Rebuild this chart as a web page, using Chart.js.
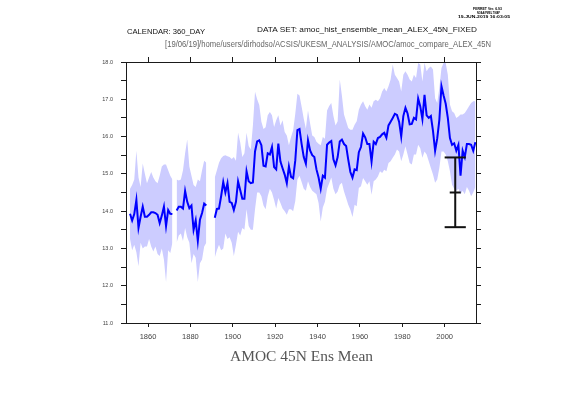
<!DOCTYPE html>
<html>
<head>
<meta charset="utf-8">
<script src="https://cdn.jsdelivr.net/npm/chart.js@4.4.1/dist/chart.umd.min.js"></script>
<style>
  html, body { margin: 0; padding: 0; background: #fff; }
  #wrap { position: relative; width: 561px; height: 397px; overflow: hidden; }
  #chart { position: absolute; left: 0; top: 0; }
  .lbl { position: absolute; white-space: nowrap; transform-origin: 0 50%; }
</style>
</head>
<body>
<div id="wrap">
  <canvas id="chart" width="561" height="397"></canvas>
</div>
<script>
// annual values, one per year from firstYear to lastYear (null = missing year)
const firstYear = 1851;
const lastYear = 2014;

const ensMean = [
  13.93, 13.75, 13.92, 14.30, 13.55, 13.85, 14.12, 13.85, 13.85, 13.90,
  13.97, 13.97, 13.95, 13.90, 13.68, 13.88, 14.12, 13.60, 14.03, 13.93, 13.92,
  null,
  14.02, 14.12, 14.12, 14.07, 14.54, 14.25, 14.08, 14.15, 13.50, 13.75,
  13.20, 13.77, 13.95, 14.20, 14.15,
  null, null, null,
  13.82, 14.06, 14.07, 14.40, 14.78, 14.50, 14.75, 14.25, 14.22, 14.03,
  14.25, 14.80, 14.57, 14.33, 14.33, 15.07, 14.80, 14.75, 14.77, 15.60,
  15.87, 15.90, 15.77, 15.22, 15.20, 15.55, 15.52, 15.72, 15.18, 15.12,
  15.81, 15.33, 15.15, 14.98, 14.75, 15.20, 14.92, 14.88, 15.36, 16.17,
  16.20, 15.80, 15.45, 15.27, 15.90, 15.63, 15.50, 15.45, 15.12, 14.90,
  14.60, 14.95, 14.90, 15.78, 15.84, 15.88, 15.39, 15.23, 15.45, 15.87,
  15.92, 15.80, 15.75, 15.38, 15.05, 14.90, 15.12, 15.10, 15.58, 15.72,
  16.08, 15.98, 15.80, 15.80, 15.33, 15.86, 15.80, 15.96, 15.99, 16.06,
  16.10, 15.97, 16.30, 16.40, 16.50, 16.61, 16.58, 16.40, 16.00, 16.55,
  16.77, 16.62, 16.33, 16.34, 16.50, 16.46, 17.02, 16.81, 16.47, 17.12,
  16.57, 16.50, 16.55, 16.15, 15.62, 15.95, 16.45, 17.35, 17.10, 16.88,
  16.50, 15.96, 15.78, 15.82, 15.62, 15.78, 14.95, 15.62, 15.45, 15.80,
  15.80, 15.78, 15.62, 15.85
];

const ensMax = [
  14.60, 14.70, 14.85, 15.62, 14.90, 14.65, 15.28, 15.00, 14.75, 14.90,
  15.05, 14.90, 14.80, 14.75, 14.95, 15.20, 15.25, 15.25, 15.10, 14.95, 14.85,
  null,
  14.85, 14.82, 14.85, 15.10, 15.55, 15.92, 15.20, 14.95, 14.70, 14.65,
  14.85, 14.80, 15.10, 15.35, 15.30,
  null, null, null,
  14.90, 15.10, 15.30, 15.42, 15.48, 15.50, 15.47, 15.45, 15.40, 15.45,
  15.35, 16.10, 15.85, 15.45, 15.55, 16.10, 15.75, 15.65, 16.30, 17.20,
  17.00, 16.85, 16.40, 16.20, 16.25, 16.57, 16.66, 16.57, 16.26, 16.44,
  16.57, 16.30, 16.44, 16.12, 16.03, 15.77, 15.99, 16.17, 16.61, 17.15,
  17.10, 16.80, 16.48, 16.21, 16.70, 16.35, 16.03, 15.99, 15.86, 15.81,
  15.77, 15.99, 15.94, 16.70, 16.82, 16.90, 16.55, 16.30, 16.41, 17.53,
  17.10, 16.59, 16.41, 16.23, 16.18, 16.18, 16.32, 16.41, 16.72, 16.86,
  16.95, 16.81, 16.72, 16.86, 16.77, 16.95, 16.99, 16.95, 17.03, 17.21,
  17.30, 17.21, 17.35, 17.53, 17.93, 17.66, 17.57, 17.48, 17.21, 17.66,
  17.75, 17.66, 17.53, 17.48, 17.66, 17.57, 17.97, 17.93, 17.48, 17.98,
  17.75, 17.84, 17.88, 17.80, 17.03, 16.90, 17.30, 17.84, 17.97, 17.97,
  17.66, 16.86, 16.68, 16.63, 16.50, 16.54, 16.59, 16.59, 16.63, 16.72,
  16.81, 16.90, 16.95, 16.95
];

const ensMin = [
  13.25, 12.95, 13.10, 12.90, 12.52, 13.15, 13.00, 13.05, 13.05, 13.25,
  13.05, 12.92, 13.05, 12.85, 12.80, 13.00, 12.70, 12.10, 12.95, 12.88, 13.15,
  null,
  13.15, 13.35, 13.40, 13.20, 13.55, 13.30, 13.15, 12.60, 12.85, 12.75,
  12.10, 12.60, 12.70, 13.05, 13.15,
  null, null, null,
  12.75, 12.95, 13.10, 12.95, 13.00, 13.40, 13.25, 13.30, 13.15, 12.80,
  13.10, 13.45, 13.35, 13.55, 13.50, 14.05, 13.60, 13.50, 13.50, 14.05,
  14.50, 14.50, 14.40, 14.15, 14.05, 14.40, 14.60, 14.50, 14.30, 14.07,
  14.35, 14.22, 14.07, 14.00, 13.90, 14.05, 14.05, 14.00, 14.27, 14.85,
  14.95, 14.78, 14.60, 14.55, 14.80, 14.65, 14.55, 14.50, 14.45, 14.22,
  13.72, 14.10, 14.25, 14.60, 14.75, 14.90, 14.60, 14.45, 14.53, 14.71,
  14.76, 14.53, 14.35, 14.17, 14.04, 13.84, 14.17, 14.13, 14.62, 14.67,
  14.89, 14.80, 14.71, 14.80, 14.44, 14.80, 14.85, 14.93, 15.07, 15.02,
  15.11, 15.07, 15.29, 15.34, 15.43, 15.52, 15.65, 15.60, 15.34, 15.52,
  15.74, 15.52, 15.29, 15.25, 15.52, 15.52, 15.78, 15.69, 15.43, 15.60,
  15.52, 15.34, 15.16, 14.98, 14.76, 14.85, 15.16, 15.60, 15.60, 15.52,
  15.34, 15.07, 14.71, 14.60, 14.55, 14.60, 14.45, 14.55, 14.45, 14.65,
  14.55, 14.40, 14.50, 14.65
];

// error bar drawn near the end of the record
const errYear = 2005;
const errLow = 13.57;
const errMid = 14.50;
const errHigh = 15.44;

const xTicks = [1860, 1880, 1900, 1920, 1940, 1960, 1980, 2000];
const yTicks = [11, 11.5, 12, 12.5, 13, 13.5, 14, 14.5, 15, 15.5, 16, 16.5, 17, 17.5, 18];

const years = [];
for (let y = firstYear; y <= lastYear; y++) years.push(y);

// annual means sit in the middle of their year
function toPoints(values) {
  return years.map((yr, i) => ({ x: yr + 0.5, y: values[i] }));
}

const frameColor = '#1a1a1a';
const tickFont = { family: 'Liberation Sans', size: 7.5 };

function errSeg(x0, y0, x1, y1) {
  return {
    data: [{ x: x0, y: y0 }, { x: x1, y: y1 }],
    borderColor: '#111',
    borderWidth: 2,
    pointRadius: 0,
    fill: false
  };
}

const ctx = document.getElementById('chart').getContext('2d');
const chart = new Chart(ctx, {
  type: 'line',
  data: {
    datasets: [
      errSeg(errYear, errLow, errYear, errHigh),
      errSeg(errYear - 5, errHigh, errYear + 5, errHigh),
      errSeg(errYear - 5, errLow, errYear + 5, errLow),
      errSeg(errYear - 2.6, errMid, errYear + 2.6, errMid),
      {
        label: 'Ens Mean',
        data: toPoints(ensMean),
        borderColor: '#0000ff',
        borderWidth: 2,
        pointRadius: 0,
        fill: false,
        spanGaps: false
      },
      {
        label: 'max',
        data: toPoints(ensMax),
        borderWidth: 0,
        borderColor: 'rgba(0,0,0,0)',
        backgroundColor: '#ccccff',
        pointRadius: 0,
        fill: '+1',
        spanGaps: false
      },
      {
        label: 'min',
        data: toPoints(ensMin),
        borderWidth: 0,
        borderColor: 'rgba(0,0,0,0)',
        pointRadius: 0,
        fill: false,
        spanGaps: false
      }
    ]
  },
  options: {
    responsive: false,
    animation: false,
    devicePixelRatio: 1,
    layout: { padding: 0 },
    plugins: {
      legend: { display: false },
      tooltip: { enabled: false },
      filler: { drawTime: 'beforeDatasetsDraw' }
    },
    scales: {
      x: {
        type: 'linear',
        position: 'bottom',
        min: 1849.6,
        max: 2014.8,
        afterBuildTicks: s => { s.ticks = xTicks.map(v => ({ value: v })); },
        afterFit: s => { s.height = 74; },
        grid: { drawOnChartArea: false, tickLength: 4, color: frameColor },
        border: { color: frameColor, width: 1 },
        ticks: { color: '#444', font: tickFont, padding: 5, maxRotation: 0, autoSkip: false,
                 callback: v => String(v) }
      },
      xTop: {
        type: 'linear',
        position: 'top',
        min: 1849.6,
        max: 2014.8,
        afterBuildTicks: s => { s.ticks = xTicks.map(v => ({ value: v })); },
        afterFit: s => { s.height = 62; },
        grid: { drawOnChartArea: false, tickLength: 5, color: frameColor },
        border: { color: frameColor, width: 1 },
        ticks: { display: false }
      },
      y: {
        position: 'left',
        min: 11,
        max: 18,
        afterBuildTicks: s => { s.ticks = yTicks.map(v => ({ value: v })); },
        afterFit: s => { s.width = 126; },
        grid: { drawOnChartArea: false, tickLength: 5, color: frameColor },
        border: { color: frameColor, width: 1 },
        ticks: { color: '#444', font: { family: 'Liberation Sans', size: 5.5 }, padding: 8,
                 callback: v => (Number.isInteger(v) ? v.toFixed(1) : '') }
      },
      yRight: {
        position: 'right',
        min: 11,
        max: 18,
        afterBuildTicks: s => { s.ticks = yTicks.map(v => ({ value: v })); },
        afterFit: s => { s.width = 85; },
        grid: { drawOnChartArea: false, tickLength: 5, color: frameColor },
        border: { color: frameColor, width: 1 },
        ticks: { display: false }
      }
    }
  }
});

// header / footer texts placed like the Ferret page: [text, left, centre y, width, size, family, colour]
const pageTexts = [
  ['FERRET Ver. 6.93', 473, 9.3, 29, 3.6, 'Liberation Sans', '#000', 'bold'],
  ['NOAA/PMEL TMAP', 477, 13.0, 23, 3.6, 'Liberation Sans', '#000', 'bold'],
  ['19-JUN-2019 16:03:05', 458, 16.7, 52, 3.6, 'Liberation Sans', '#000', 'bold'],
  ['CALENDAR: 360_DAY', 127, 31.7, 78, 7.6, 'Liberation Sans', '#111', 'normal'],
  ['DATA SET: amoc_hist_ensemble_mean_ALEX_45N_FIXED', 257, 30.2, 220, 7.8, 'Liberation Sans', '#111', 'normal'],
  ['[19/06/19]/home/users/dirhodso/ACSIS/UKESM_ANALYSIS/AMOC/amoc_compare_ALEX_45N', 165, 45.2, 326, 8.2, 'Liberation Sans', '#666', 'normal'],
  ['AMOC 45N Ens Mean', 230, 356.7, 143, 15, 'Liberation Serif', '#555', 'normal']
];

const wrap = document.getElementById('wrap');
pageTexts.forEach(([text, left, cy, width, size, family, color, weight]) => {
  const el = document.createElement('div');
  el.className = 'lbl';
  const px = Math.max(size, 8);
  el.textContent = text;
  el.style.fontFamily = family;
  el.style.fontSize = px + 'px';
  el.style.lineHeight = px + 'px';
  el.style.fontWeight = weight;
  el.style.color = color;
  el.style.left = left + 'px';
  el.style.top = (cy - px / 2) + 'px';
  wrap.appendChild(el);
  const w = el.getBoundingClientRect().width;
  el.style.transform = 'scale(' + (width / w) + ',' + (size / px) + ')';
});
</script>
</body>
</html>
